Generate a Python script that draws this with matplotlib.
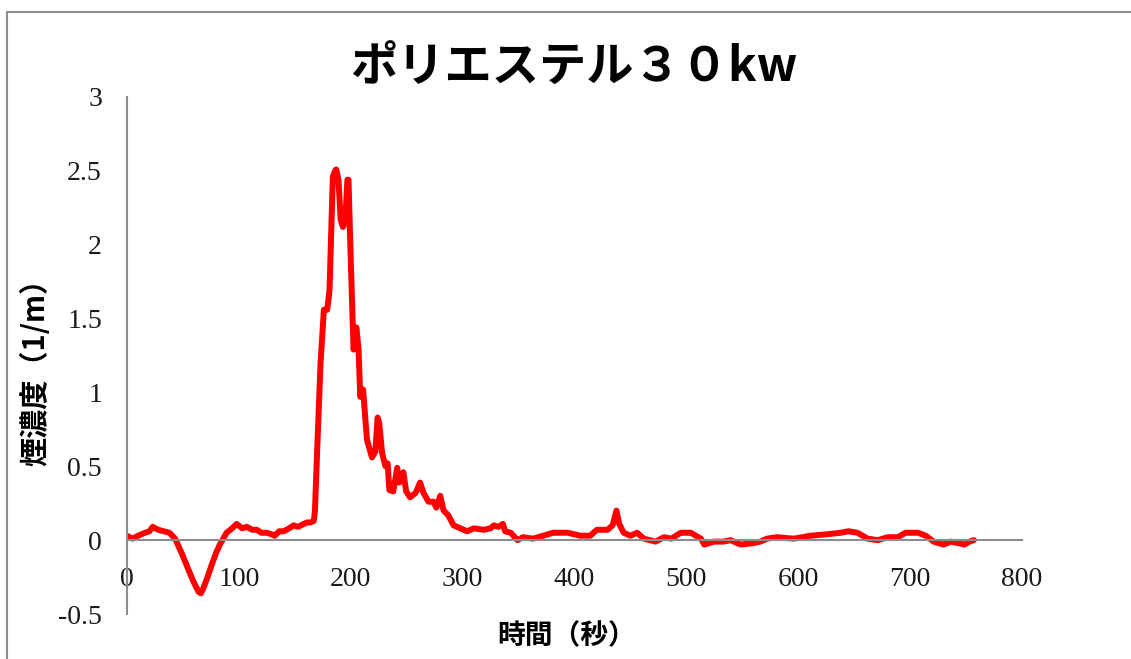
import matplotlib.pyplot as plt
from matplotlib.patches import Rectangle

# 時間（秒）と煙濃度（1/m）
time_s = [0, 5, 10, 16, 20, 23, 28, 33, 38, 43, 49, 56, 60, 64, 66, 68, 72, 76, 80, 83,
          89, 94, 98, 103, 107, 112, 116, 120, 125, 129, 132, 136, 140, 145, 149, 153, 158,
          161, 164, 167, 168, 170, 173, 176, 179, 181, 183, 184, 186, 187, 189, 191, 193,
          195, 197, 198, 200, 202.5, 205, 207, 208.5, 211, 214.5, 219, 222, 224, 225.5,
          228, 231, 233, 234.5, 238, 241.5, 243.5, 247, 249.5, 253, 258, 262, 265, 269.5,
          274, 276.5, 280, 283, 287, 292, 298, 304, 310, 319, 325, 328, 332, 336, 338, 343,
          349, 354, 363, 372, 381, 394, 405, 414, 420, 429.5, 434, 437.5, 440, 444, 450,
          456, 462, 472.5, 480, 486.5, 495, 504, 513, 516, 524.5, 533, 539.5, 548.5, 560,
          566, 572, 581, 596, 611, 626, 638, 645, 653, 662, 671, 680, 689, 696, 707, 714,
          721, 730, 736, 743, 748.5, 753, 757]
smoke = [0.03, 0.01, 0.03, 0.05, 0.06, 0.09, 0.07, 0.06, 0.05, 0.01, -0.09, -0.22, -0.29,
         -0.35, -0.36, -0.33, -0.25, -0.16, -0.08, -0.03, 0.05, 0.08, 0.11, 0.08, 0.09, 0.07,
         0.07, 0.05, 0.05, 0.04, 0.03, 0.06, 0.06, 0.08, 0.10, 0.09, 0.11, 0.12, 0.12, 0.13,
         0.2, 0.61, 1.2, 1.56, 1.56, 1.69, 2.19, 2.46, 2.50, 2.51, 2.44, 2.17, 2.12, 2.15,
         2.44, 2.44, 1.9, 1.29, 1.44, 1.29, 0.97, 1.02, 0.68, 0.56, 0.6, 0.83, 0.79, 0.59,
         0.5, 0.52, 0.34, 0.33, 0.49, 0.39, 0.46, 0.33, 0.29, 0.32, 0.39, 0.32, 0.26, 0.26,
         0.22, 0.30, 0.20, 0.17, 0.10, 0.08, 0.06, 0.08, 0.07, 0.08, 0.10, 0.09, 0.11, 0.06,
         0.05, 0.0, 0.02, 0.01, 0.03, 0.05, 0.05, 0.03, 0.03, 0.07, 0.07, 0.1, 0.2, 0.11,
         0.05, 0.03, 0.05, 0.01, -0.01, 0.02, 0.01, 0.05, 0.05, 0.01, -0.03, -0.01, -0.01,
         0.0, -0.03, -0.02, -0.01, 0.01, 0.02, 0.01, 0.03, 0.04, 0.05, 0.06, 0.05, 0.01, 0.0,
         0.02, 0.02, 0.05, 0.05, 0.03, -0.01, -0.03, -0.01, -0.02, -0.03, -0.01, 0.0]

x_ticks = [0, 100, 200, 300, 400, 500, 600, 700, 800]
y_ticks = [-0.5, 0, 0.5, 1, 1.5, 2, 2.5, 3]
y_tick_labels = ['-0.5', '0', '0.5', '1', '1.5', '2', '2.5', '3']

jp = ['Noto Sans CJK JP', 'DejaVu Sans']
serif = ['Liberation Serif', 'DejaVu Serif']
axis_gray = '#8c8c8c'

fig = plt.figure(figsize=(11.31, 6.59), dpi=100)
ax = fig.add_axes([127 / 1131, 1 - 614 / 659, (1022 - 127) / 1131, (614 - 97) / 659])

ax.plot(time_s, smoke, color='red', lw=4.3, solid_joinstyle='round', solid_capstyle='round')

ax.set_xlim(0, 800)
ax.set_ylim(-0.5, 3)
ax.set_xticks(x_ticks)
ax.set_yticks(y_ticks)
ax.set_yticklabels(y_tick_labels)

# 軸線は x=0, y=0 を通る
ax.spines['left'].set_position(('data', 0))
ax.spines['bottom'].set_position(('data', 0))
for s in ['top', 'right']:
    ax.spines[s].set_visible(False)
for s in ['left', 'bottom']:
    ax.spines[s].set_color(axis_gray)
    ax.spines[s].set_linewidth(1.5)

ax.tick_params(length=0)
ax.tick_params(axis='x', pad=19)
ax.tick_params(axis='y', pad=18)
for lbl in ax.get_xticklabels() + ax.get_yticklabels():
    lbl.set_family(serif)
    lbl.set_fontsize(20)
    lbl.set_color('#1a1a1a')

fig.text(574 / 1131, 1 - 68 / 659, 'ポリエステル３０kw', family=jp, fontsize=34,
         fontweight='bold', ha='center', va='center')
fig.text(35 / 1131, 1 - 365 / 659, '煙濃度（1/m）', family=jp, fontsize=21,
         fontweight='bold', rotation=90, ha='center', va='center')
fig.text(567 / 1131, 1 - 636 / 659, '時間（秒）', family=jp, fontsize=20,
         fontweight='bold', ha='center', va='center')

# グラフ枠
fig.add_artist(Rectangle((7 / 1131, -0.1), 2, 1 - 12 / 659 + 0.1, transform=fig.transFigure,
                         fill=False, edgecolor=axis_gray, lw=1.5))

fig.savefig('out.png', dpi=100)
